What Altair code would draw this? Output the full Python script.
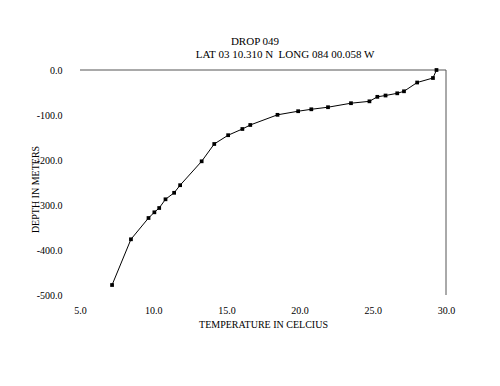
import altair as alt
import pandas as pd

temperature = [29.35, 29.11, 28.03, 27.13, 26.67, 25.87, 25.31, 24.77, 23.51, 21.94,
               20.80, 19.90, 18.49, 16.63, 16.09, 15.12, 14.17, 13.31, 11.84, 11.43,
               10.84, 10.41, 10.08, 9.68, 8.48, 7.19]
depth = [0.0, -17.8, -27.8, -47.3, -51.8, -56.7, -59.6, -69.6, -73.8, -82.7,
         -87.3, -91.6, -99.6, -122.2, -131.1, -144.9, -164.4, -202.9, -256.0, -272.9,
         -287.3, -306.7, -316.2, -328.9, -376.2, -477.8]

x_ticks = [5, 10, 15, 20, 25, 30]
y_ticks = [0, -100, -200, -300, -400, -500]
title_line1 = "DROP 049"
title_line2 = "LAT 03 10.310 N\u00a0 LONG 084 00.058 W"

FONT = "Liberation Serif"

df = pd.DataFrame({"t": temperature, "d": depth, "i": list(range(len(depth)))})

xscale = alt.Scale(domain=[5, 30], nice=False, zero=False)
yscale = alt.Scale(domain=[-500, 0], nice=False, zero=False)

label_expr = "replace(format(datum.value, '.1f'), '\u2212', '-')"

xaxis = alt.Axis(values=x_ticks, labelExpr=label_expr, domain=False, ticks=False, grid=False,
                 labelFlush=False,
                 labelFont=FONT, labelFontSize=10, labelColor="black", labelPadding=10,
                 title="TEMPERATURE IN CELCIUS", titleFont=FONT, titleFontSize=10,
                 titleFontWeight="normal", titleColor="black", titlePadding=4)
yaxis = alt.Axis(values=y_ticks, labelExpr=label_expr, domain=False, ticks=False, grid=False,
                 labelFlush=False,
                 labelFont=FONT, labelFontSize=10, labelColor="black", labelPadding=18,
                 title="DEPTH IN METERS", titleFont=FONT, titleFontSize=10,
                 titleFontWeight="normal", titleColor="black",
                 titleX=-40, titleY=119, titleAngle=270, titleBaseline="bottom",
                 titleAlign="center")

line = alt.Chart(df).mark_line(color="black", strokeWidth=1).encode(
    x=alt.X("t:Q", scale=xscale, axis=xaxis),
    y=alt.Y("d:Q", scale=yscale, axis=yaxis),
    order="i:Q",
)
pts = alt.Chart(df).mark_point(shape="square", filled=True, color="black", size=14, opacity=1).encode(
    x=alt.X("t:Q", scale=xscale),
    y=alt.Y("d:Q", scale=yscale),
)

hrule_df = pd.DataFrame({"x1": [x_ticks[0]], "x2": [x_ticks[-1]], "y": [y_ticks[0]]})
vrule_df = pd.DataFrame({"x": [x_ticks[-1]], "y1": [y_ticks[0]], "y2": [y_ticks[-1]]})
hrule = alt.Chart(hrule_df).mark_rule(color="#555555", strokeWidth=1).encode(
    x=alt.X("x1:Q", scale=xscale), x2="x2:Q", y=alt.Y("y:Q", scale=yscale))
vrule = alt.Chart(vrule_df).mark_rule(color="#555555", strokeWidth=1).encode(
    x=alt.X("x:Q", scale=xscale), y=alt.Y("y1:Q", scale=yscale), y2="y2:Q")

t1 = alt.Chart(pd.DataFrame({"s": [title_line1]})).mark_text(
    font=FONT, fontSize=11, color="black", baseline="alphabetic", align="center").encode(
    x=alt.value(175), y=alt.value(-25), text="s:N")
t2 = alt.Chart(pd.DataFrame({"s": [title_line2]})).mark_text(
    font=FONT, fontSize=11, color="black", baseline="alphabetic", align="center").encode(
    x=alt.value(205), y=alt.value(-12), text="s:N")

chart = alt.layer(hrule, vrule, line, pts, t1, t2).properties(
    width=366, height=225,
    autosize=alt.AutoSizeParams(type="none"),
    padding={"left": 72, "top": 62, "right": 30, "bottom": 60},
    background="white",
).configure_view(stroke=None)

chart.save("out.html", embed_options={"renderer": "svg", "actions": False})
